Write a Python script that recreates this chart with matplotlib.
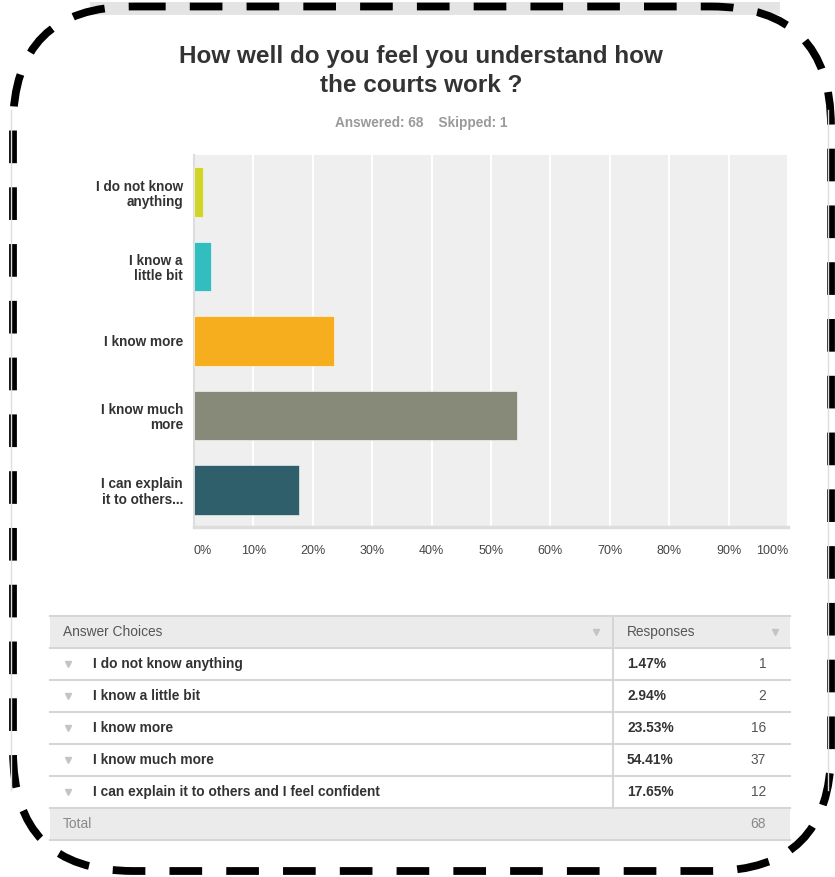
import matplotlib.pyplot as plt
from matplotlib.patches import FancyBboxPatch, Rectangle

plt.rcParams['font.family'] = ['Liberation Sans', 'DejaVu Sans']

# data
title = "How well do you feel you understand how\nthe courts work ?"
answered = 68
skipped = 1
bar_labels = ["I do not know\nanything", "I know a\nlittle bit", "I know more",
              "I know much\nmore", "I can explain\nit to others..."]
choices = ["I do not know anything", "I know a little bit", "I know more",
           "I know much more", "I can explain it to others and I feel confident"]
percents = [1.47, 2.94, 23.53, 54.41, 17.65]
counts = [1, 2, 16, 37, 12]
total = 68
colors = ["#d1d52b", "#32bebe", "#f6ae1f", "#888a79", "#2e5f6b"]
xticks = list(range(0, 101, 10))

W, H = 835, 877
fig = plt.figure(figsize=(W / 100, H / 100), dpi=100)

# background layer in pixel coords (y down)
bg = fig.add_axes([0, 0, 1, 1])
bg.set_xlim(0, W)
bg.set_ylim(H, 0)
bg.axis('off')

# bits of the browser screenshot
bg.add_patch(Rectangle((90, 2), 690, 13, color="#e4e4e4", lw=0))
bg.plot([11, 11], [110, 790], color="#dddddd", lw=1)
bg.plot([828, 828], [110, 790], color="#dddddd", lw=1)

bg.text(421, 71, title, ha='center', va='center', fontsize=17.5, fontweight='bold',
        color="#333333", linespacing=1.3)
bg.text(421, 123, f"Answered: {answered}    Skipped: {skipped}", ha='center', va='center',
        fontsize=9.8, fontweight='bold', color="#9a9a9a")

# bar chart
ax = fig.add_axes([194 / W, 1 - 527 / H, 594 / W, 372 / H])
ax.set_facecolor("#efefef")
ypos = list(range(len(percents)))
ax.barh(ypos, percents, height=0.667, color=colors, edgecolor="#ffffff", linewidth=0.4, zorder=3)
ax.set_xlim(0, 100)
ax.set_ylim(len(percents) - 0.5, -0.5)
ax.set_xticks(xticks)
ax.set_xticklabels([f"{t}%" for t in xticks], fontsize=9, color="#444444")
labs = ax.get_xticklabels()
labs[0].set_horizontalalignment('left')
labs[-1].set_horizontalalignment('right')
ax.set_yticks(ypos)
ax.set_yticklabels(bar_labels, fontsize=9.8, fontweight='bold', color="#333333", linespacing=1.12)
ax.tick_params(length=0, pad=8)
ax.tick_params(axis='x', pad=13)
ax.grid(axis='x', color="#ffffff", lw=1.5, zorder=1)
for s in ['top', 'right']:
    ax.spines[s].set_visible(False)
ax.spines['left'].set_color("#dddddd")
ax.spines['left'].set_linewidth(1.5)
ax.spines['bottom'].set_color("#dddddd")
ax.spines['bottom'].set_linewidth(2.5)

# table
tl, tr, div = 50, 790, 613
top, rh = 616, 32
line_c = "#d6d6d6"
fs = 9.9
bg.add_patch(Rectangle((tl, top), tr - tl, rh, color="#ebebeb", lw=0))
bg.text(63, top + rh / 2, "Answer Choices", ha='left', va='center', fontsize=fs, color="#555555")
bg.text(627, top + rh / 2, "Responses", ha='left', va='center', fontsize=fs, color="#555555")
bg.plot([596, 775], [top + rh / 2, top + rh / 2], ls='none', marker='v', ms=5, color="#c4c4c4")
for i, (c, p, n) in enumerate(zip(choices, percents, counts)):
    y = top + rh * (i + 1.5)
    bg.plot(68, y, marker='v', ms=5, color="#c4c4c4")
    bg.text(93, y, c, ha='left', va='center', fontsize=fs, fontweight='bold', color="#333333")
    bg.text(627, y, f"{p:.2f}%", ha='left', va='center', fontsize=fs, fontweight='bold', color="#333333")
    bg.text(766, y, str(n), ha='right', va='center', fontsize=fs, color="#555555")
ty = top + rh * 6
bg.add_patch(Rectangle((tl, ty), tr - tl, rh, color="#ebebeb", lw=0))
bg.text(63, ty + rh / 2, "Total", ha='left', va='center', fontsize=fs, color="#888888")
bg.text(766, ty + rh / 2, str(total), ha='right', va='center', fontsize=fs, color="#888888")
for k in range(8):
    yy = top + rh * k
    bg.plot([tl, tr], [yy, yy], color=line_c, lw=1.5)
bg.plot([div, div], [top, ty], color=line_c, lw=1.5)

# dashed rounded frame drawn over the screenshot
frame = FancyBboxPatch((13, 6.5), 818, 864.5, boxstyle="round,pad=0,rounding_size=120",
                       fill=False, edgecolor="black", lw=5.6, ls=(0, (4.2, 3.1)))
bg.add_patch(frame)

fig.savefig("out.png", dpi=100)
